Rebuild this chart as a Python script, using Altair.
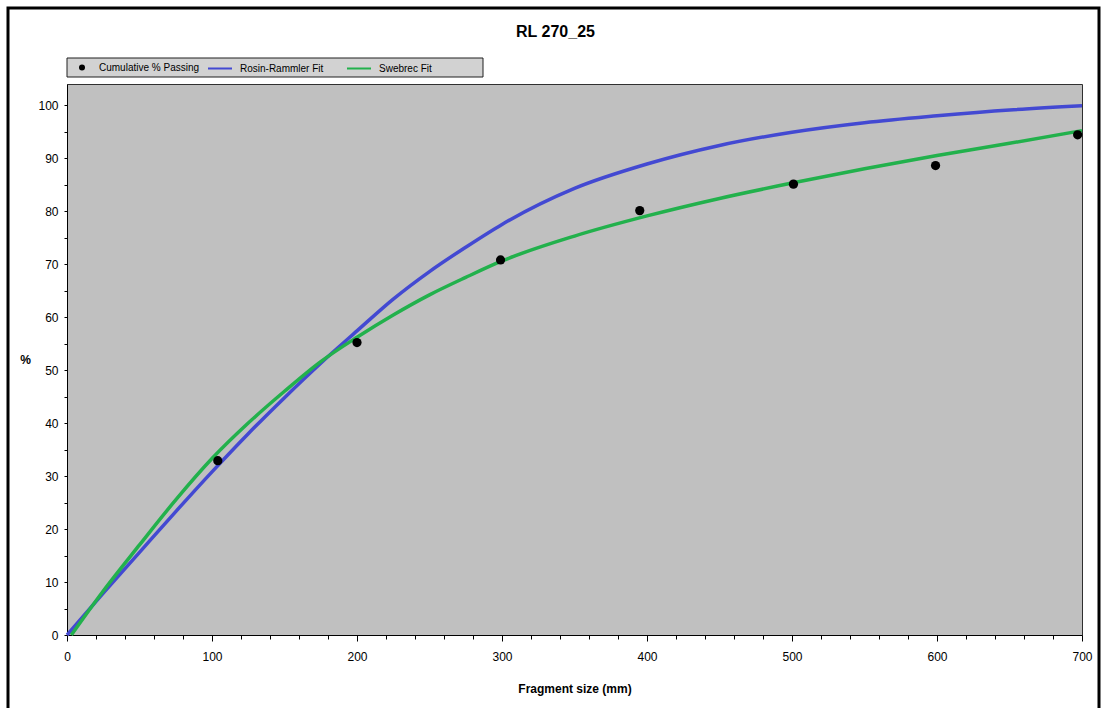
import altair as alt
import pandas as pd

# ---- data ----
sizes_mm = [104, 200, 299, 395, 501, 599, 697]
passing = [32.9, 55.2, 70.8, 80.1, 85.1, 88.6, 94.4]

rr_x = [0, 25, 50, 75, 100, 125, 150, 175, 200, 225, 250, 275, 300, 350, 400, 450, 500, 550, 600, 650, 700]
rr_y = [0, 7.9, 15.6, 23.3, 30.8, 38.0, 44.8, 51.3, 57.4, 63.4, 68.6, 73.2, 77.5, 84.3, 88.9, 92.4, 94.9, 96.7, 98.0, 99.1, 99.9]

sw_x = [3, 25, 50, 75, 100, 125, 150, 175, 200, 225, 250, 275, 300, 350, 400, 450, 500, 550, 600, 650, 700]
sw_y = [0, 8.3, 17.0, 25.5, 33.3, 40.0, 46.0, 51.6, 56.2, 60.4, 64.2, 67.5, 70.6, 75.3, 79.1, 82.4, 85.3, 88.0, 90.5, 92.8, 95.2]

point_series = ["Cumulative % Passing"]
fit_series = ["Rosin-Rammler Fit", "Swebrec Fit"]
fit_colors = ["#4349d2", "#22b14c"]
x_ticks = list(range(0, 701, 20))
y_ticks = list(range(0, 101, 5))

FONT = "Liberation Sans, Arial, sans-serif"

pts = pd.DataFrame({"size": sizes_mm, "pct": passing, "series": point_series[0]})
fits = pd.concat([
    pd.DataFrame({"size": rr_x, "pct": rr_y, "series": fit_series[0]}),
    pd.DataFrame({"size": sw_x, "pct": sw_y, "series": fit_series[1]}),
])

xs = alt.Scale(domain=[0, 700], nice=False, zero=False)
ys = alt.Scale(domain=[0, 104], nice=False)

x_axis = alt.Axis(
    values=x_ticks, grid=False, title="Fragment size (mm)",
    labelExpr="datum.value % 100 === 0 ? datum.label : ''",
    tickSize=alt.expr("datum.value % 100 === 0 ? 6 : 4"),
    labelPadding=10, labelFont=FONT, labelFontSize=12, labelColor="black",
    labelOverlap=False,
    titleFont=FONT, titleFontSize=12, titleFontWeight="bold", titleColor="black",
    titleY=53, titleBaseline="middle", domainColor="black", tickColor="black",
    labelFlush=False,
)
y_axis = alt.Axis(
    values=y_ticks, grid=False, title="%",
    labelExpr="datum.value % 10 === 0 ? datum.label : ''",
    labelOverlap=False,
    tickSize=3, labelPadding=6, labelFont=FONT, labelFontSize=12, labelColor="black",
    titleFont=FONT, titleFontSize=12, titleFontWeight="bold", titleColor="black",
    titleAngle=0, titleX=-42, titleY=275, titleAlign="center", titleBaseline="middle",
    domainColor="black", tickColor="black", labelFlush=False,
)

fit_legend = alt.Legend(
    orient="none", legendX=140, legendY=-28.5, direction="horizontal",
    title=None, padding=0, symbolType="stroke", symbolSize=576, symbolStrokeWidth=2,
    labelFont=FONT, labelFontSize=10, labelColor="black", labelOffset=7,
    columnPadding=19, gridAlign="none",
)
pt_legend = alt.Legend(
    orient="none", legendX=10, legendY=-21.5, direction="horizontal",
    title=None, padding=0, symbolType="circle", symbolSize=36, symbolFillColor="black",
    symbolStrokeColor="black", symbolStrokeWidth=1,
    labelFont=FONT, labelFontSize=10, labelColor="black", labelOffset=12,
)

# decorative legend box and outer frame
legend_box = alt.Chart(alt.Data(values=[{}])).mark_rect(
    fill="#d2d2d2", stroke="#202020", strokeWidth=1
).encode(x=alt.value(0), x2=alt.value(416), y=alt.value(-26), y2=alt.value(-7))

frame = alt.Chart(alt.Data(values=[{}])).mark_rect(
    filled=False, stroke="black", strokeWidth=3
).encode(x=alt.value(-59), x2=alt.value(1032), y=alt.value(-76), y2=alt.value(650))

lines = alt.Chart(fits).mark_line(strokeWidth=3.5, interpolate="monotone").encode(
    x=alt.X("size:Q", scale=xs, axis=x_axis),
    y=alt.Y("pct:Q", scale=ys, axis=y_axis),
    color=alt.Color("series:N", scale=alt.Scale(domain=fit_series, range=fit_colors), legend=fit_legend),
)

points = alt.Chart(pts).mark_point(filled=True, size=85, opacity=1, color="black").encode(
    x=alt.X("size:Q", scale=xs, axis=x_axis),
    y=alt.Y("pct:Q", scale=ys, axis=y_axis),
    shape=alt.Shape("series:N", scale=alt.Scale(domain=point_series, range=["circle"]), legend=pt_legend),
)

chart = alt.layer(legend_box, lines, points, frame).properties(
    width=1015, height=551,
    autosize=alt.AutoSizeParams(type="none"),
    padding={"left": 67, "top": 84, "right": 19, "bottom": 73},
    title=alt.TitleParams(
        "RL 270_25", anchor="middle", font=FONT, fontSize=16, fontWeight="bold",
        color="black", dx=-19, offset=-33,
    ),
).configure(
    background="white",
    view=alt.ViewConfig(fill="#c0c0c0", stroke="#303030", strokeWidth=1),
    axis=alt.AxisConfig(labelOverlap=False),
)

chart.save("out.html", embed_options={"renderer": "svg", "actions": False})
